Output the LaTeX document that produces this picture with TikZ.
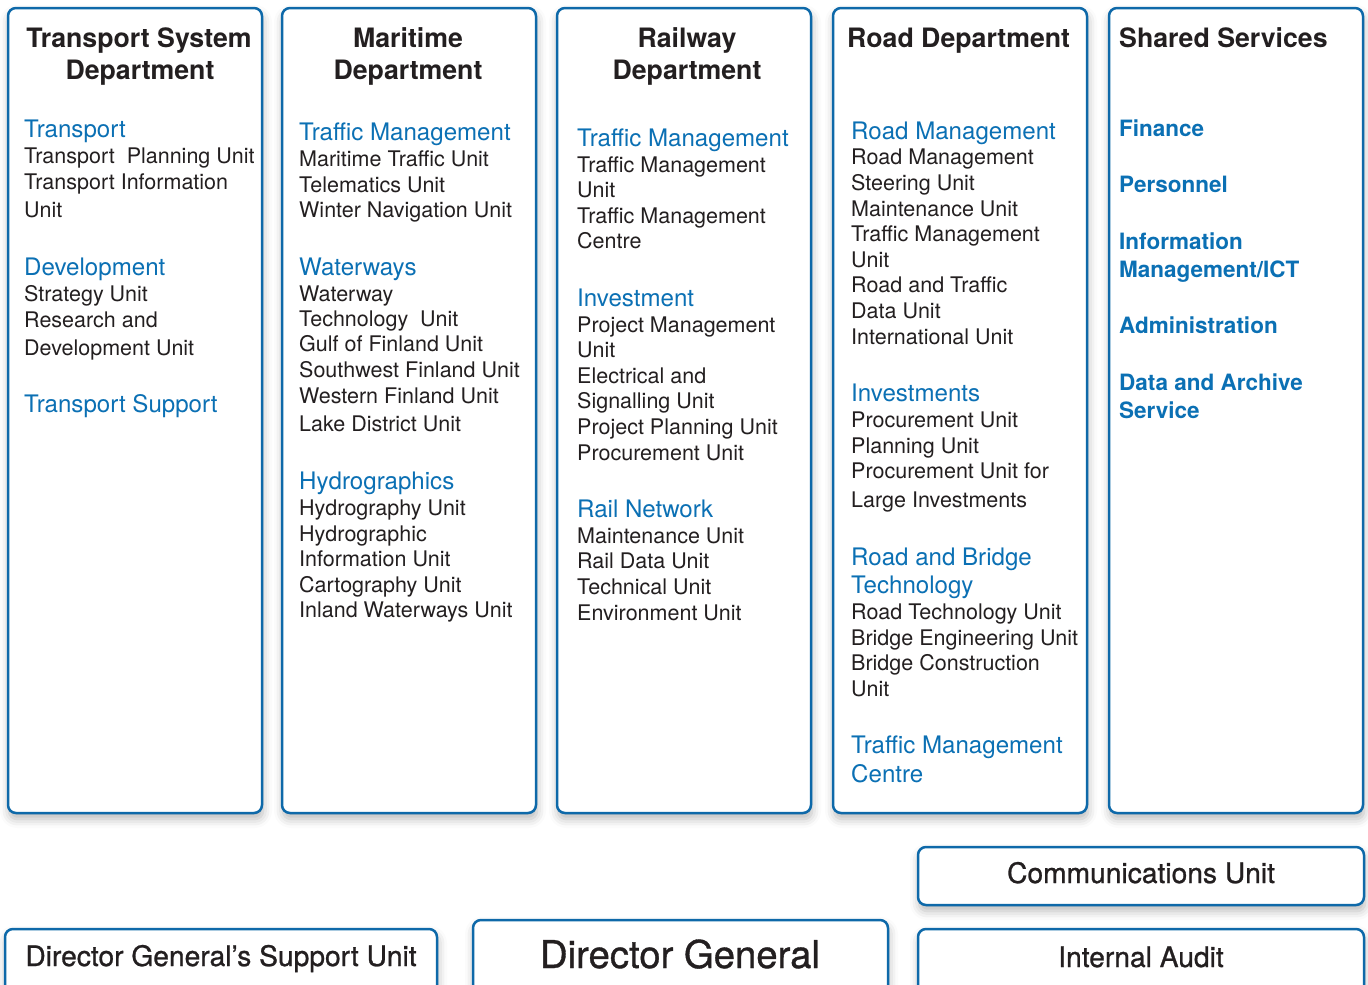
\documentclass[tikz,border=0pt]{standalone}
\usepackage{fontspec}
\setmainfont{TeX Gyre Heros}
\newfontfamily\medfont[FakeBold=0.9]{TeX Gyre Heros}
\usetikzlibrary{shadows.blur}
\definecolor{bordblue}{HTML}{0E69A9}
\definecolor{txtblue}{HTML}{0B70B4}
\definecolor{txtdark}{HTML}{231F20}
\newcommand{\Ln}[5]{\node[#4, anchor=base west] (#1) at (#2,#3) {#5};}
\newcommand{\Hc}[4]{\node[head, anchor=base] (#1) at (#2,#3) {#4};}
\begin{document}
\begin{tikzpicture}[x=1pt,y=-1pt,
  box/.style={draw=bordblue, line width=2.5pt, rounded corners=8pt, fill=white,
    blur shadow={shadow xshift=1pt, shadow yshift=-6pt, shadow blur radius=9pt, shadow opacity=28}},
  item/.style={inner sep=0pt, text=txtdark, font=\fontsize{21.5}{25}\selectfont},
  sub/.style={inner sep=0pt, text=txtblue, font=\fontsize{24.1}{28}\selectfont},
  bsub/.style={inner sep=0pt, text=txtblue, font=\fontsize{22.5}{28}\selectfont\bfseries},
  head/.style={inner sep=0pt, text=txtdark, font=\fontsize{26.7}{32}\selectfont\bfseries},
  bottxt/.style={inner sep=0pt, text=txtdark, font=\medfont\fontsize{28.2}{30}\selectfont},
]
\useasboundingbox (0,0) rectangle (1368,985);
% column boxes
\path[box] (8,8) rectangle (262,813);
\path[box] (282,8) rectangle (536,813);
\path[box] (557,8) rectangle (811,813);
\path[box] (833,8) rectangle (1087,813);
\path[box] (1109,8) rectangle (1363,813);
% bottom boxes
\path[box] (918,847) rectangle (1364,905);
\path[box] (918,929) rectangle (1364,995);
\path[box] (473,920) rectangle (888,995);
\path[box] (5,929) rectangle (437,995);

% headings
\Hc{h1a}{139}{47}{Transport System}
\Hc{h1b}{140}{79}{Department}
\Hc{h2a}{408}{47}{Maritime}
\Hc{h2b}{408}{79}{Department}
\Hc{h3a}{687}{47}{Railway}
\Hc{h3b}{687}{79}{Department}
\Ln{h4}{847}{47}{head}{Road Department}
\Ln{h5}{1119}{47}{head}{Shared Services}

% column 1
\Ln{a1}{24}{137}{sub}{Transport}
\Ln{a2}{24}{163}{item}{Transport\ \ Planning Unit}
\Ln{a3}{24}{189}{item}{Transport Information}
\Ln{a4}{24}{217}{item}{Unit}
\Ln{a5}{24}{275}{sub}{Development}
\Ln{a6}{24}{301}{item}{Strategy Unit}
\Ln{a7}{24}{327}{item}{Research and}
\Ln{a8}{24}{355}{item}{Development Unit}
\Ln{a9}{24}{412}{sub}{Transport Support}

% column 2
\Ln{b1}{299}{140}{sub}{Traffic Management}
\Ln{b2}{299}{166}{item}{Maritime Traffic Unit}
\Ln{b3}{299}{192}{item}{Telematics Unit}
\Ln{b4}{299}{217}{item}{Winter Navigation Unit}
\Ln{b5}{299}{275}{sub}{Waterways}
\Ln{b6}{299}{301}{item}{Waterway}
\Ln{b7}{299}{326}{item}{Technology\ \ Unit}
\Ln{b8}{299}{351}{item}{Gulf of Finland Unit}
\Ln{b9}{299}{377}{item}{Southwest Finland Unit}
\Ln{b10}{299}{403}{item}{Western Finland Unit}
\Ln{b11}{299}{431}{item}{Lake District Unit}
\Ln{b12}{299}{489}{sub}{Hydrographics}
\Ln{b13}{299}{515}{item}{Hydrography Unit}
\Ln{b14}{299}{541}{item}{Hydrographic}
\Ln{b15}{299}{566}{item}{Information Unit}
\Ln{b16}{299}{592}{item}{Cartography Unit}
\Ln{b17}{299}{617}{item}{Inland Waterways Unit}

% column 3
\Ln{c1}{577}{146}{sub}{Traffic Management}
\Ln{c2}{577}{172}{item}{Traffic Management}
\Ln{c3}{577}{197}{item}{Unit}
\Ln{c4}{577}{223}{item}{Traffic Management}
\Ln{c5}{577}{248}{item}{Centre}
\Ln{c6}{577}{306}{sub}{Investment}
\Ln{c7}{577}{332}{item}{Project Management}
\Ln{c8}{577}{357}{item}{Unit}
\Ln{c9}{577}{383}{item}{Electrical and}
\Ln{c10}{577}{408}{item}{Signalling Unit}
\Ln{c11}{577}{434}{item}{Project Planning Unit}
\Ln{c12}{577}{460}{item}{Procurement Unit}
\Ln{c13}{577}{517}{sub}{Rail Network}
\Ln{c14}{577}{543}{item}{Maintenance Unit}
\Ln{c15}{577}{568}{item}{Rail Data Unit}
\Ln{c16}{577}{594}{item}{Technical Unit}
\Ln{c17}{577}{620}{item}{Environment Unit}

% column 4
\Ln{d1}{851}{139}{sub}{Road Management}
\Ln{d2}{851}{164}{item}{Road Management}
\Ln{d3}{851}{190}{item}{Steering Unit}
\Ln{d4}{851}{216}{item}{Maintenance Unit}
\Ln{d5}{851}{241}{item}{Traffic Management}
\Ln{d6}{851}{267}{item}{Unit}
\Ln{d7}{851}{292}{item}{Road and Traffic}
\Ln{d8}{851}{318}{item}{Data Unit}
\Ln{d9}{851}{344}{item}{International Unit}
\Ln{d10}{851}{401}{sub}{Investments}
\Ln{d11}{851}{427}{item}{Procurement Unit}
\Ln{d12}{851}{453}{item}{Planning Unit}
\Ln{d13}{851}{478}{item}{Procurement Unit for}
\Ln{d14}{851}{507}{item}{Large Investments}
\Ln{d15}{851}{565}{sub}{Road and Bridge}
\Ln{d16}{851}{593}{sub}{Technology}
\Ln{d17}{851}{619}{item}{Road Technology Unit}
\Ln{d18}{851}{645}{item}{Bridge Engineering Unit}
\Ln{d19}{851}{670}{item}{Bridge Construction}
\Ln{d20}{851}{696}{item}{Unit}
\Ln{d21}{851}{753}{sub}{Traffic Management}
\Ln{d22}{851}{782}{sub}{Centre}

% column 5
\Ln{e1}{1119}{136}{bsub}{Finance}
\Ln{e2}{1119}{192}{bsub}{Personnel}
\Ln{e3}{1119}{249}{bsub}{Information}
\Ln{e4}{1119}{277}{bsub}{Management/ICT}
\Ln{e5}{1119}{333}{bsub}{Administration}
\Ln{e6}{1119}{390}{bsub}{Data and Archive}
\Ln{e7}{1119}{418}{bsub}{Service}

% bottom texts
\node[bottxt, anchor=base] (comm) at (1141,883) {Communications Unit};
\node[bottxt, anchor=base] (audit) at (1141,967) {Internal Audit};
\node[bottxt, anchor=base, font=\medfont\fontsize{38.3}{42}\selectfont] (dg) at (680,968) {Director General};
\node[bottxt, anchor=base] (dgs) at (221,966) {Director General’s Support Unit};
\end{tikzpicture}
\end{document}
